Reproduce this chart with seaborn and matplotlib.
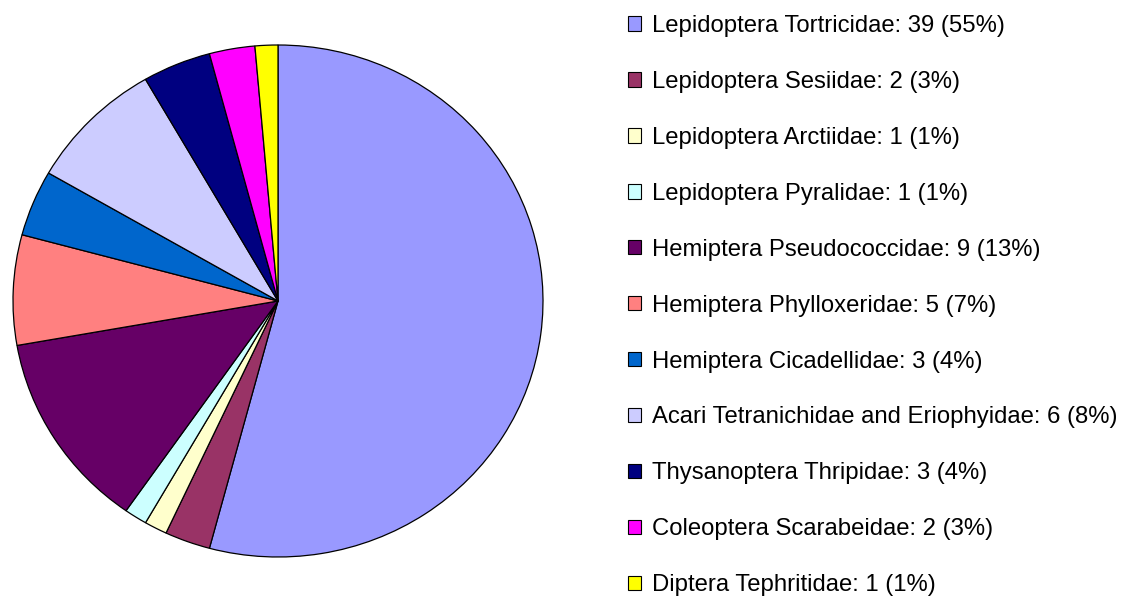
import numpy as np
import pandas as pd
import seaborn as sns
import matplotlib.pyplot as plt
from matplotlib.patches import Patch

taxa = ["Lepidoptera Tortricidae", "Lepidoptera Sesiidae", "Lepidoptera Arctiidae",
        "Lepidoptera Pyralidae", "Hemiptera Pseudococcidae", "Hemiptera Phylloxeridae",
        "Hemiptera Cicadellidae", "Acari Tetranichidae and Eriophyidae",
        "Thysanoptera Thripidae", "Coleoptera Scarabeidae", "Diptera Tephritidae"]
counts = [39, 2, 1, 1, 9, 5, 3, 6, 3, 2, 1]
percents = [55, 3, 1, 1, 13, 7, 4, 8, 4, 3, 1]
colors = ["#9999FF", "#993366", "#FFFFCC", "#CCFFFF", "#660066", "#FF8080",
          "#0066CC", "#CCCCFF", "#000080", "#FF00FF", "#FFFF00"]

sns.set_theme(style="white")
plt.rcParams['font.family'] = ['Liberation Sans', 'DejaVu Sans']

df = pd.DataFrame({"taxon": taxa, "count": counts, "pct": percents})
df["label"] = df["taxon"] + ": " + df["count"].astype(str) + " (" + df["pct"].astype(str) + "%)"

fig = plt.figure(figsize=(11.42, 5.98), dpi=100)
ax = fig.add_axes([13 / 1142, 41 / 598, 530 / 1142, 512 / 598])
ax.pie(df["count"], colors=colors, startangle=90, counterclock=False,
       wedgeprops=dict(edgecolor="black", linewidth=0.9), radius=1.0)
ax.set_aspect("auto")
ax.set_xlim(-1, 1)
ax.set_ylim(-1, 1)
ax.axis("off")

handles = [Patch(facecolor=c, edgecolor="black", linewidth=0.8) for c in colors]
leg = fig.legend(handles, df["label"], loc="upper left", bbox_to_anchor=(628 / 1142, 1 - 15 / 598),
                 frameon=False, fontsize=17.2, handlelength=0.55, handleheight=0.55,
                 handletextpad=0.45, labelspacing=1.42, borderaxespad=0, borderpad=0)
for t in leg.get_texts():
    t.set_color("black")

fig.savefig("out.png", dpi=100, facecolor="white")
